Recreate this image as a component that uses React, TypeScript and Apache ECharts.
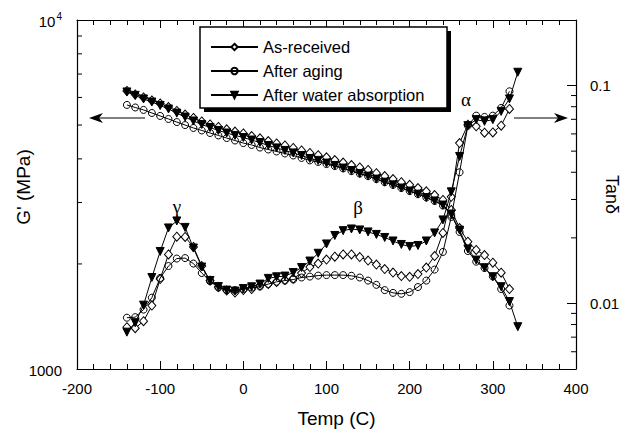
import React, { useEffect, useRef } from 'react';
import * as echarts from 'echarts';

// Temperature (°C) for each sample; As-received and aging stop at 320, water absorption at 330
const temps = [
  -140, -130, -120, -110, -100, -90, -80, -70, -60, -50, -40, -30, -20, -10, 0, 10, 20, 30, 40, 50,
  60, 70, 80, 90, 100, 110, 120, 130, 140, 150, 160, 170, 180, 190, 200, 210, 220, 230, 240, 250,
  260, 270, 280, 290, 300, 310, 320, 330,
];

const seriesNames = ['As-received', 'After aging', 'After water absorption'];

// Storage modulus G' (MPa)
const asReceivedModulus = [
  6262, 6120, 6000, 5880, 5765, 5630, 5490, 5360, 5240, 5120, 5020, 4940, 4860, 4790, 4730, 4650,
  4580, 4500, 4430, 4370, 4300, 4230, 4160, 4100, 4040, 3970, 3905, 3840, 3780, 3720, 3640, 3570,
  3500, 3430, 3370, 3300, 3230, 3150, 3050, 2855, 2535, 2317, 2193, 2121, 2016, 1888, 1695,
];
const agingModulus = [
  5710, 5615, 5525, 5415, 5310, 5205, 5100, 5000, 4905, 4825, 4745, 4670, 4590, 4515, 4440, 4385,
  4310, 4255, 4200, 4145, 4090, 4025, 3960, 3920, 3865, 3815, 3755, 3690, 3630, 3570, 3500, 3430,
  3370, 3300, 3235, 3170, 3100, 3030, 2940, 2763, 2470, 2178, 2030, 1947, 1841, 1695, 1520,
];
const waterModulus = [
  6220, 6080, 5940, 5820, 5690, 5560, 5410, 5270, 5135, 5020, 4920, 4825, 4745, 4670, 4605, 4530,
  4455, 4370, 4300, 4230, 4160, 4090, 4010, 3960, 3890, 3830, 3765, 3705, 3630, 3570, 3500, 3430,
  3370, 3300, 3235, 3170, 3100, 3030, 2950, 2780, 2500, 2208, 2052, 1951, 1838, 1721, 1561, 1322,
];

// Loss tangent tan(delta)
const asReceivedTan = [
  0.00778, 0.0077, 0.00829, 0.00977, 0.01294, 0.01678, 0.02025, 0.02019, 0.01816, 0.01485, 0.01273,
  0.01189, 0.01145, 0.01121, 0.01151, 0.01164, 0.01208, 0.01227, 0.01253, 0.0128,
  0.01301, 0.01379, 0.01469, 0.01524, 0.0159, 0.01638, 0.01678, 0.01678, 0.01633, 0.01574,
  0.01508, 0.01438, 0.01386, 0.01335, 0.01325, 0.01364, 0.01461, 0.0165, 0.02107,
  0.03084, 0.05448, 0.06616, 0.06498, 0.06076, 0.06096, 0.06546, 0.0781,
];
const agingTan = [
  0.0086, 0.00865, 0.00937, 0.01063, 0.01308, 0.01485, 0.01607, 0.01615, 0.01524, 0.01379, 0.01264,
  0.01182, 0.01151, 0.01151, 0.01164, 0.01182, 0.01195, 0.01227, 0.01257, 0.01273,
  0.01287, 0.01315, 0.01328, 0.01342, 0.01349, 0.01349, 0.01349, 0.01339, 0.01315, 0.01273,
  0.01217, 0.01151, 0.01118, 0.01107, 0.01127, 0.01189, 0.01273, 0.0143, 0.01723,
  0.02495, 0.03999, 0.06546, 0.07278, 0.07177, 0.07278, 0.07894, 0.09414,
];
const waterTan = [
  0.00738, 0.00816, 0.00982, 0.01315, 0.01732, 0.02221, 0.02391, 0.02233, 0.01796, 0.01469, 0.01273,
  0.01195, 0.01151, 0.01139, 0.0117, 0.01192, 0.01227, 0.01303, 0.01325, 0.01335,
  0.01386, 0.01461, 0.01565, 0.01699, 0.01875, 0.02051, 0.02158, 0.02197, 0.02174, 0.02129,
  0.02073, 0.02008, 0.01935, 0.01865, 0.01826, 0.01845, 0.01935, 0.02107, 0.02417,
  0.03252, 0.04728, 0.06546, 0.06976, 0.06852, 0.06976, 0.07613, 0.08687, 0.11512,
];

// Axis ranges and minor tick values for log axes
const X_MIN = -200;
const X_MAX = 400;
const X_STEP = 100;
const modulusRange = [1000, 10000];
const tanRange = [0.005, 0.2];
const modulusMinorTicks = [2000, 3000, 4000, 5000, 6000, 7000, 8000, 9000];
const tanMinorTicks = [0.006, 0.007, 0.008, 0.009, 0.02, 0.03, 0.04, 0.05, 0.06, 0.07, 0.08, 0.09];

const SANS = '"Liberation Sans", Arial, Helvetica, sans-serif';
const SERIF = '"Liberation Serif", "DejaVu Serif", serif';

const pair = (vals: number[]) => vals.map((v, i) => [temps[i], v]);

const markerStyles = [
  { symbol: 'diamond', symbolSize: [8, 9], symbolRotate: 0, itemStyle: { color: '#fff', borderColor: '#000', borderWidth: 1 } },
  { symbol: 'circle', symbolSize: 7, symbolRotate: 0, itemStyle: { color: 'rgba(255,255,255,0)', borderColor: '#000', borderWidth: 1 } },
  { symbol: 'triangle', symbolSize: 8, symbolRotate: 180, itemStyle: { color: '#000', borderColor: '#000', borderWidth: 1 } },
];

function lineSeries(idx: number, values: number[], yAxisIndex: number) {
  const m = markerStyles[idx];
  return {
    type: 'line',
    name: seriesNames[idx],
    xAxisIndex: 0,
    yAxisIndex,
    data: pair(values),
    symbol: m.symbol,
    symbolSize: m.symbolSize,
    symbolRotate: m.symbolRotate,
    showAllSymbol: true,
    itemStyle: m.itemStyle,
    lineStyle: { color: '#000', width: 1 },
    emphasis: { disabled: true },
    z: 3 + idx,
  };
}

function minorTickSeries(values: number[], yAxisIndex: number, xAt: number, dir: number) {
  return {
    type: 'custom',
    xAxisIndex: 0,
    yAxisIndex,
    silent: true,
    clip: false,
    data: values.map((v) => [xAt, v]),
    renderItem: (_params: any, api: any) => {
      const p = api.coord([api.value(0), api.value(1)]);
      return {
        type: 'line',
        shape: { x1: p[0], y1: p[1], x2: p[0] + dir * 5, y2: p[1] },
        style: { stroke: '#000', lineWidth: 1 },
      };
    },
  };
}

const isDecade = (v: number) => Math.abs(Math.log10(v) - Math.round(Math.log10(v))) < 1e-6;

export default function App() {
  const ref = useRef<HTMLDivElement>(null);
  useEffect(() => {
    if (!ref.current) return;
    const chart = echarts.init(ref.current, null, { renderer: 'svg' });
    const axisLine = { show: true, onZero: false, lineStyle: { color: '#000', width: 1.2 } };
    const option: any = {
      animation: false,
      backgroundColor: '#fff',
      grid: { left: 77, right: 58, top: 20, bottom: 60, containLabel: false, outerBoundsMode: 'none' },
      legend: {
        data: seriesNames,
        orient: 'vertical',
        left: 210,
        top: 38.5,
        padding: 0,
        itemWidth: 47,
        itemHeight: 8,
        itemGap: 7,
        selectedMode: false,
        z: 10,
        textStyle: { fontSize: 16.5, fontFamily: SANS, color: '#000' },
      },
      xAxis: [
        {
          type: 'value',
          position: 'bottom',
          min: X_MIN,
          max: X_MAX,
          interval: X_STEP,
          name: 'Temp (C)',
          nameLocation: 'middle',
          nameGap: 40,
          nameMoveOverlap: false,
          nameTextStyle: { fontSize: 19, fontFamily: SANS, color: '#000', padding: [0, 0, 0, 20] },
          axisLine,
          axisTick: { inside: true, length: 8, lineStyle: { color: '#000', width: 1 } },
          minorTick: { show: true, splitNumber: 5, length: 5, lineStyle: { color: '#000', width: 1 } },
          axisLabel: { fontSize: 15, fontFamily: SANS, color: '#000', margin: 12 },
          splitLine: { show: false },
        },
        {
          type: 'value',
          position: 'top',
          min: X_MIN,
          max: X_MAX,
          interval: X_STEP,
          axisLine,
          axisTick: { inside: true, length: 8, lineStyle: { color: '#000', width: 1 } },
          minorTick: { show: true, splitNumber: 5, length: 5, lineStyle: { color: '#000', width: 1 } },
          axisLabel: { show: false },
          splitLine: { show: false },
        },
      ],
      yAxis: [
        {
          type: 'log',
          logBase: 10,
          position: 'left',
          min: modulusRange[0],
          max: modulusRange[1],
          name: "G' (MPa)",
          nameLocation: 'middle',
          nameRotate: 90,
          nameGap: 44,
          nameMoveOverlap: false,
          nameTextStyle: { fontSize: 19, fontFamily: SANS, color: '#000', padding: [0, 0, 0, 15] },
          axisLine,
          axisTick: { inside: true, length: 8, lineStyle: { color: '#000', width: 1 } },
          axisLabel: {
            fontSize: 15,
            fontFamily: SANS,
            color: '#000',
            margin: 15,
            formatter: (v: number) => {
              if (!isDecade(v)) return '';
              const e = Math.round(Math.log10(v));
              if (e === 3) return '{b|1000}';
              return '{b|10}{s|' + e + '}';
            },
            rich: {
              b: { fontSize: 15, fontFamily: SANS, color: '#000', lineHeight: 18, verticalAlign: 'bottom' },
              s: { fontSize: 10, fontFamily: SANS, color: '#000', lineHeight: 18, verticalAlign: 'top', padding: [0, 0, 6, 1] },
            },
          },
          splitLine: { show: false },
        },
        {
          type: 'log',
          logBase: 10,
          position: 'right',
          min: tanRange[0],
          max: tanRange[1],
          name: 'Tanδ',
          nameLocation: 'middle',
          nameRotate: -90,
          nameGap: 27,
          nameMoveOverlap: false,
          nameTextStyle: { fontSize: 18, fontFamily: SANS, color: '#000' },
          axisLine,
          axisTick: { inside: true, length: 9, lineStyle: { color: '#000', width: 1 } },
          axisLabel: {
            fontSize: 15,
            fontFamily: SANS,
            color: '#000',
            margin: 14,
            formatter: (v: number) => {
              if (!isDecade(v) || v < tanRange[0] * 1.2 || v > tanRange[1] * 0.8) return '';
              return String(Number(v.toPrecision(1)));
            },
          },
          splitLine: { show: false },
        },
      ],
      graphic: [
        { type: 'rect', z: 5, shape: { x: 204, y: 31, width: 247, height: 81 }, style: { fill: '#000' } },
        { type: 'rect', z: 6, shape: { x: 200, y: 27, width: 247, height: 81 }, style: { fill: '#fff', stroke: '#000', lineWidth: 1.5 } },
        { type: 'text', z: 6, x: 177, y: 206, style: { text: 'γ', fontSize: 19, fontFamily: SERIF, fill: '#000', align: 'center', verticalAlign: 'middle' } },
        { type: 'text', z: 6, x: 358, y: 207, style: { text: 'β', fontSize: 19, fontFamily: SERIF, fill: '#000', align: 'center', verticalAlign: 'middle' } },
        { type: 'text', z: 6, x: 466, y: 99, style: { text: 'α', fontSize: 19, fontFamily: SERIF, fill: '#000', align: 'center', verticalAlign: 'middle' } },
        { type: 'line', z: 6, shape: { x1: 145, y1: 118, x2: 98, y2: 118 }, style: { stroke: '#000', lineWidth: 1.2 } },
        { type: 'polygon', z: 6, shape: { points: [[89, 118], [103, 113], [99, 118], [103, 123]] }, style: { fill: '#000' } },
        { type: 'line', z: 6, shape: { x1: 514, y1: 118, x2: 559, y2: 118 }, style: { stroke: '#000', lineWidth: 1.2 } },
        { type: 'polygon', z: 6, shape: { points: [[568, 118], [554, 113], [558, 118], [554, 123]] }, style: { fill: '#000' } },
      ],
      series: [
        lineSeries(0, asReceivedModulus, 0),
        lineSeries(1, agingModulus, 0),
        lineSeries(2, waterModulus, 0),
        lineSeries(0, asReceivedTan, 1),
        lineSeries(1, agingTan, 1),
        lineSeries(2, waterTan, 1),
        minorTickSeries(modulusMinorTicks, 0, X_MIN, 1),
        minorTickSeries(tanMinorTicks, 1, X_MAX, -1),
      ],
    };
    chart.setOption(option);
    return () => chart.dispose();
  }, []);
  return (
    <div
      ref={ref}
      style={{ position: 'absolute', left: 0, top: 0, width: 634, height: 429, background: '#fff' }}
    />
  );
}
